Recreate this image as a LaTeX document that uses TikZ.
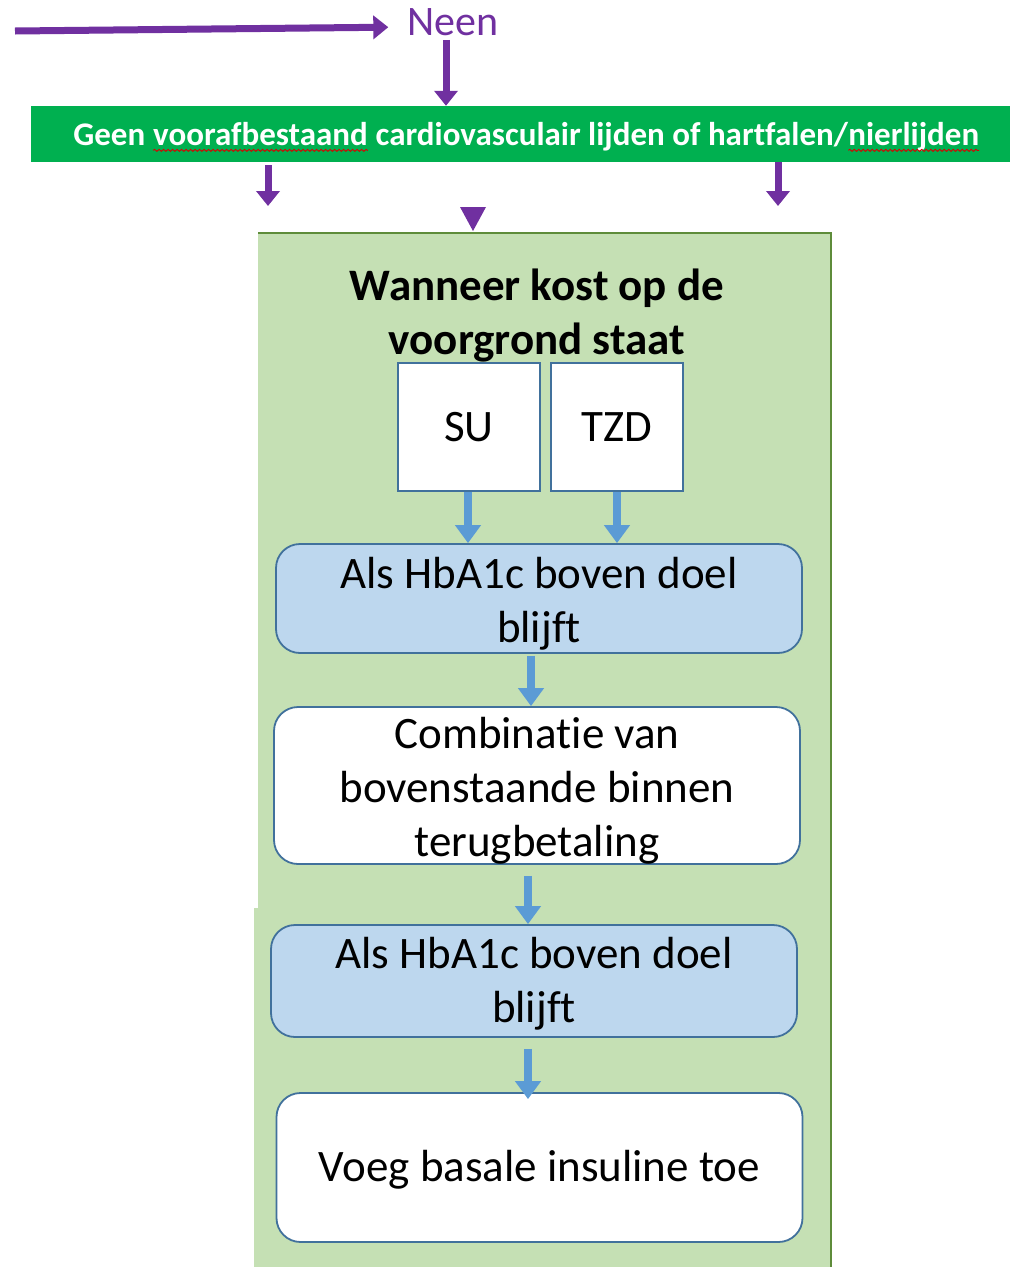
\documentclass[tikz,border=0pt]{standalone}
\usepackage{fontspec}
\setmainfont{Carlito}[Ligatures=NoCommon]
\usetikzlibrary{arrows.meta,decorations.pathmorphing}
\definecolor{paars}{HTML}{7030A0}
\definecolor{balkgroen}{HTML}{00B050}
\definecolor{paneelgroen}{HTML}{C5E0B4}
\definecolor{paneelrand}{HTML}{5E8C3A}
\definecolor{kaderblauw}{HTML}{41719C}
\definecolor{vulblauw}{HTML}{BDD7EE}
\definecolor{pijlblauw}{HTML}{5B9BD5}
% red wavy spelling underline under a word
\newcommand\golflijn[1]{\tikz[baseline=(gw.base)]{\node[inner sep=0pt,outer sep=0pt,draw=none,fill=none,minimum width=0pt,minimum height=0pt,anchor=base] (gw) {#1};
  \draw[red!85!black,line width=0.9pt,decorate,decoration={snake,amplitude=1pt,segment length=4.5pt}] ([yshift=-5pt]gw.base west) -- ([yshift=-5pt]gw.base east);}}
% lower a text block without changing its reported size
\newcommand\zakken[2]{\raisebox{-#1}[\height][\depth]{#2}}
\tikzset{
  paarspijl/.style={draw=paars,line width=7pt,-{Triangle[length=15pt,width=23pt]}},
  blauwpijl/.style={draw=pijlblauw,line width=7.5pt,-{Triangle[length=18pt,width=25pt]}},
  vak/.style={draw=kaderblauw,line width=1.8pt,fill=white,inner sep=0pt,font=\fontsize{45}{54}\selectfont,align=center},
  rondvak/.style={vak,rounded corners=24pt,minimum width=526pt},
}
\begin{document}
\begin{tikzpicture}[x=1pt,y=-1pt]
\useasboundingbox (0,0) rectangle (1011,1267);
\fill[white] (0,0) rectangle (1011,1267);
% light green panel
\fill[paneelgroen] (258,233) -- (831,233) -- (831,1267) -- (254,1267) -- (254,908) -- (258,908) -- cycle;
\draw[paneelrand,line width=2.2pt] (258,233) -- (831,233) -- (831,1267);
% top: Neen and the green bar
\node[text=paars,font=\fontsize{42}{46}\selectfont,inner sep=0pt] (neen) at (453,22) {Neen};
\coordinate (start) at (15,31);
\draw[paarspijl,shorten >=19pt] (start) -- ([yshift=-5pt]neen.west);
\node[fill=balkgroen,minimum width=979pt,minimum height=56pt,inner sep=0pt,text=white,font=\bfseries\fontsize{33}{36}\selectfont] (balk) at (520.5,134)
  {\hspace*{12pt}\zakken{3pt}{Geen \golflijn{voorafbestaand} cardiovasculair lijden of hartfalen/\golflijn{nierlijden}}};
\draw[paarspijl] ([xshift=-7pt,yshift=-4pt]neen.south) -- ([xshift=-7pt]neen.south |- balk.north);
\coordinate (links) at (268,206);
\coordinate (rechts) at (778,206);
\draw[paarspijl] ([yshift=-3pt]balk.south -| links) -- (links);
\draw[paarspijl] (balk.south -| rechts) -- (rechts);
\fill[paars] (460,207) -- (486,207) -- (473,231) -- cycle;
% contents of the panel
\node[font=\bfseries\fontsize{45}{54}\selectfont,align=center,inner sep=0pt] (titel) at (537,316) {Wanneer kost op de\\voorgrond staat};
\node[vak,minimum width=142pt,minimum height=128pt] (su) at (469,427) {SU};
\node[vak,minimum width=132pt,minimum height=128pt] (tzd) at (617,427) {TZD};
\node[rondvak,fill=vulblauw,minimum height=109pt] (b1) at (539,598.5) {\zakken{5pt}{\parbox{520pt}{\centering Als HbA1c boven doel\\blijft}}};
\node[rondvak,minimum height=157pt] (b2) at (537,785.5) {\zakken{5pt}{\parbox{520pt}{\centering Combinatie van\\bovenstaande binnen\\terugbetaling}}};
\node[rondvak,fill=vulblauw,minimum height=112pt] (b3) at (534,981) {\zakken{3pt}{\parbox{520pt}{\centering Als HbA1c boven doel\\blijft}}};
\node[rondvak,minimum height=149pt] (b4) at (539.5,1167.5) {\zakken{2pt}{Voeg basale insuline toe}};
% blue connectors
\draw[blauwpijl] ([xshift=-1pt]su.south) -- ([xshift=-1pt]su.south |- b1.north);
\draw[blauwpijl] (tzd.south) -- (tzd.south |- b1.north);
\draw[blauwpijl] ([xshift=-8pt,yshift=-2pt]b1.south) -- ([xshift=-8pt]b1.south |- b2.north);
\draw[blauwpijl] ([xshift=-9pt,yshift=-11pt]b2.south) -- ([xshift=-9pt]b2.south |- b3.north);
\draw[blauwpijl] ([xshift=-6pt,yshift=-11pt]b3.south) -- ([xshift=-6pt,yshift=-7pt]b3.south |- b4.north);
\end{tikzpicture}
\end{document}
